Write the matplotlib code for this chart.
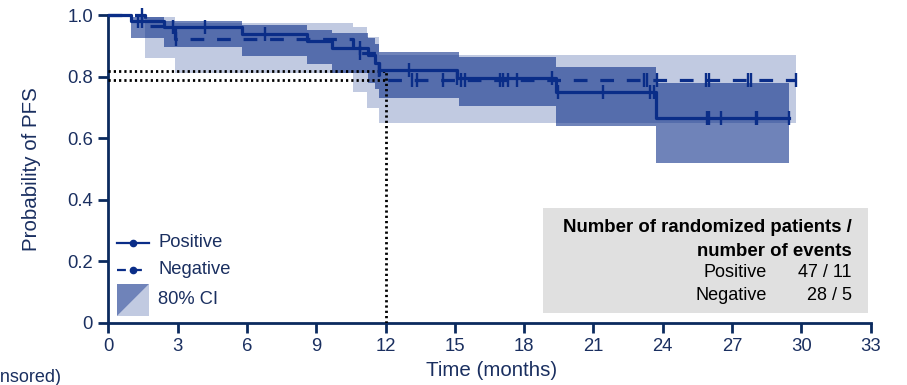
import numpy as np
import matplotlib
matplotlib.use("Agg")
import matplotlib.pyplot as plt
from matplotlib.lines import Line2D
from matplotlib.patches import Polygon, Rectangle

plt.rcParams['font.family'] = ['Liberation Sans', 'DejaVu Sans']

# Kaplan-Meier steps (time in months, survival probability)
pos_t = [0, 1.0, 2.4, 5.8, 8.6, 9.7, 11.25, 11.55, 11.7, 15.1, 19.4, 23.7]
pos_s = [1.0, 0.979, 0.960, 0.938, 0.914, 0.892, 0.870, 0.843, 0.821, 0.795, 0.750, 0.665]
pos_end = 29.45
pos_cens = [1.3, 1.45, 2.8, 4.2, 6.8, 10.9, 11.7, 13.0, 15.1, 19.2, 19.45, 21.4,
            23.45, 23.6, 25.9, 26.0, 26.5, 28.05, 28.1, 29.45]

neg_t = [0, 1.6, 2.9, 10.6, 11.7]
neg_s = [1.0, 0.964, 0.921, 0.876, 0.790]
neg_end = 29.75
neg_cens = [1.45, 2.95, 10.9, 13.15, 13.35, 14.5, 15.25, 15.45, 16.95, 17.1, 17.3,
            17.7, 23.2, 23.3, 23.75, 25.85, 26.0, 27.7, 27.8, 29.75]

# 80% CI bands
pos_band_t = [1.0, 2.4, 5.8, 8.6, 9.7, 11.25, 11.55, 11.7, 15.2, 19.4, 23.7, 29.45]
pos_band_lo = [0.924, 0.897, 0.867, 0.840, 0.81, 0.78, 0.76, 0.729, 0.704, 0.639, 0.518, 0.518]
pos_band_hi = [0.992, 0.981, 0.967, 0.952, 0.94, 0.925, 0.905, 0.881, 0.862, 0.830, 0.778, 0.778]

neg_band_t = [1.6, 2.9, 10.6, 11.2, 11.7, 29.75]
neg_band_lo = [0.859, 0.81, 0.751, 0.698, 0.648, 0.648]
neg_band_hi = [0.992, 0.975, 0.962, 0.93, 0.870, 0.870]

ref_x = 12
ref_y = [0.819, 0.789]

groups = ['Positive', 'Negative']
n_pat = [47, 28]
n_evt = [11, 5]

line_col = '#0a2d88'
axis_col = '#0b2a5e'
text_col = '#1a2f60'

W, H = 907, 385
fig = plt.figure(figsize=(W / 100, H / 100), dpi=100)
ax = fig.add_axes([108.3 / W, 62.3 / H, 762.4 / W, 316.9 / H])
ax.patch.set_visible(False)
ax.set_xlim(0, 33)
ax.set_ylim(0, 1.03)


def surv_at(t, times, surv):
    i = np.searchsorted(times, t, side='right') - 1
    return np.array(surv)[i]


# bands
ax.fill_between(neg_band_t, neg_band_lo, neg_band_hi, step='post',
                color=line_col, alpha=0.25, lw=0, zorder=1)
ax.fill_between(pos_band_t, pos_band_lo, pos_band_hi, step='post',
                color=line_col, alpha=0.59, lw=0, zorder=2)

# curves
ax.step(pos_t + [pos_end], pos_s + [pos_s[-1]], where='post', color=line_col,
        lw=2.3, zorder=4)
ax.step(neg_t + [neg_end], neg_s + [neg_s[-1]], where='post', color=line_col,
        lw=2.3, ls=(0, (4.3, 4.0)), zorder=4)
ax.plot(pos_cens, surv_at(pos_cens, pos_t, pos_s), ls='none', marker='|',
        ms=10, mew=1.7, color=line_col, zorder=5)
ax.plot(neg_cens, surv_at(neg_cens, neg_t, neg_s), ls='none', marker='|',
        ms=10, mew=1.7, color=line_col, zorder=5)

# reference lines at 12 months
for yv in ref_y:
    ax.plot([0, ref_x], [yv, yv], color='black', lw=2, ls=(0, (0.8, 1.1)), zorder=3)
ax.plot([ref_x, ref_x], [0, max(ref_y)], color='black', lw=2, ls=(0, (0.8, 1.1)), zorder=3)

# axes styling
for s in ['top', 'right']:
    ax.spines[s].set_visible(False)
for s in ['left', 'bottom']:
    ax.spines[s].set_color(axis_col)
    ax.spines[s].set_linewidth(2)
ax.spines['left'].set_bounds(0, 1.0)
ax.set_xticks(np.arange(0, 34, 3))
ax.set_yticks([0, 0.2, 0.4, 0.6, 0.8, 1.0])
ax.set_yticklabels(['0', '0.2', '0.4', '0.6', '0.8', '1.0'])
ax.tick_params(direction='out', length=7.5, width=2, color=axis_col,
               labelcolor=text_col, labelsize=13.3, pad=3.5)
ax.set_xlabel('Time (months)', fontsize=14.8, color=text_col)
ax.set_ylabel('Probability of PFS', fontsize=14.8, color=text_col)
ax.xaxis.set_label_coords(0.503, -0.12)
ax.yaxis.set_label_coords(-0.088, 0.485)


def fx(px):
    return px / W


def fy(py):
    return 1 - py / H


# legend drawn by hand
fig.add_artist(Line2D([fx(117), fx(149)], [fy(242.5), fy(242.5)], color=line_col, lw=1.6))
fig.add_artist(Line2D([fx(133)], [fy(242.5)], color=line_col, marker='o', ms=4.5))
fig.add_artist(Line2D([fx(117), fx(149)], [fy(270), fy(270)], color=line_col, lw=1.6,
                      ls=(0, (4, 3.2))))
fig.add_artist(Line2D([fx(133)], [fy(270)], color=line_col, marker='o', ms=4.5))
x0, x1, y0, y1 = fx(117), fx(149), fy(316), fy(284)
fig.add_artist(Polygon([[x0, y0], [x1, y0], [x1, y1]], closed=True, color=line_col,
                       alpha=0.25, lw=0, transform=fig.transFigure))
fig.add_artist(Polygon([[x0, y0], [x0, y1], [x1, y1]], closed=True, color=line_col,
                       alpha=0.59, lw=0, transform=fig.transFigure))
for lbl, py in zip(groups + ['80% CI'], [242.5, 270, 299]):
    fig.text(fx(158), fy(py), lbl, fontsize=13.2, color=text_col, va='center')

# patient/event box
fig.add_artist(Rectangle((fx(543), fy(313)), fx(868) - fx(543), fy(208) - fy(313),
                         color='#e0e0e0', lw=0, transform=fig.transFigure, zorder=-1))
fig.text(fx(852), fy(228), 'Number of randomized patients /', fontsize=13.4, weight='bold',
         ha='right', va='center')
fig.text(fx(852), fy(251), 'number of events', fontsize=13.4, weight='bold',
         ha='right', va='center')
for g, n, e, py in zip(groups, n_pat, n_evt, [272.5, 296]):
    fig.text(fx(767), fy(py), g, fontsize=13, ha='right', va='center')
    fig.text(fx(852), fy(py), '%d / %d' % (n, e), fontsize=13, ha='right', va='center')

fig.text(fx(61), fy(378), '(| censored)', fontsize=13, color=text_col,
         ha='right', va='center')

fig.savefig('out.png', dpi=100)
